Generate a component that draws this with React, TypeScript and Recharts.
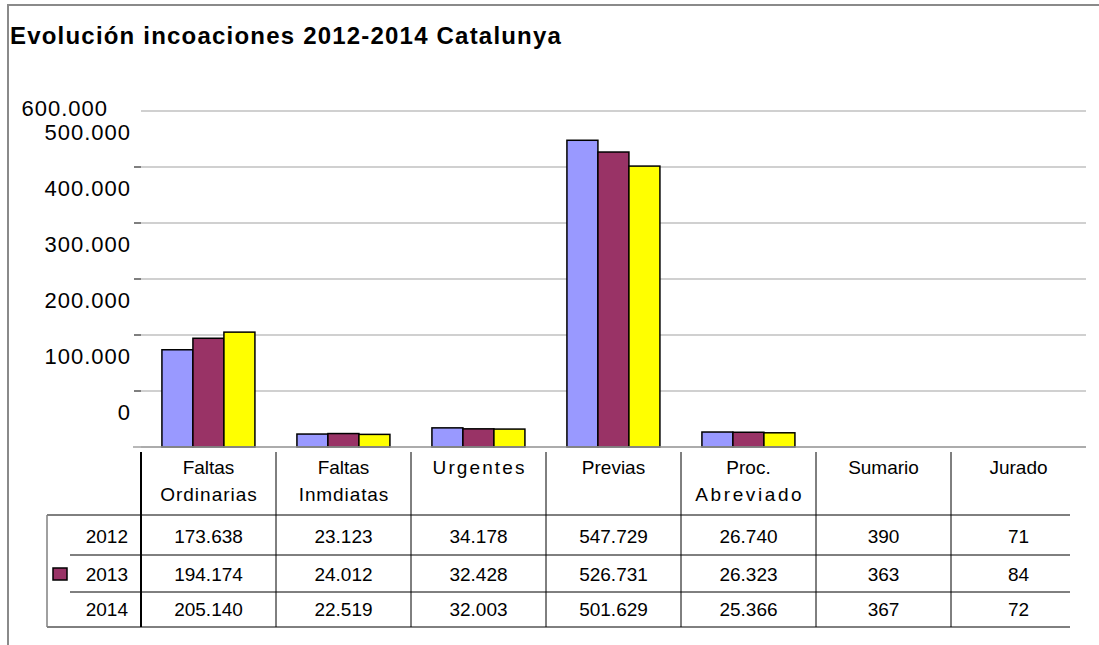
import { BarChart, Bar, XAxis, YAxis, CartesianGrid } from 'recharts'

const categories = [
  'Faltas Ordinarias',
  'Faltas Inmdiatas',
  'Urgentes',
  'Previas',
  'Proc. Abreviado',
  'Sumario',
  'Jurado',
]
const years = ['2012', '2013', '2014']
const values2012 = [173638, 23123, 34178, 547729, 26740, 390, 71]
const values2013 = [194174, 24012, 32428, 526731, 26323, 363, 84]
const values2014 = [205140, 22519, 32003, 501629, 25366, 367, 72]
const yTicks = [0, 100000, 200000, 300000, 400000, 500000, 600000]

const COLORS = ['#9999ff', '#993366', '#ffff00']
const KEYS = ['y2012', 'y2013', 'y2014']
const allValues = [values2012, values2013, values2014]

// layout
const W = 1099
const H = 645
const PLOT_LEFT = 141
const PLOT_RIGHT = 1086
const PLOT_TOP = 111
const PLOT_BOTTOM = 447
const BAND = (PLOT_RIGHT - PLOT_LEFT) / categories.length
const TABLE_TOP = 452
const HEADER_LINE_Y = [467, 494]
const ROW_LINES = [515, 555, 592, 627]
const ROW_CENTER = [536, 574, 609]
const TABLE_LEFT = 47
const TABLE_RIGHT = 1070
const FONT = '"Liberation Sans", Arial, sans-serif'

// extra tracking on some header words, as in the source image
const HEADER_SPACING: Record<string, number> = {
  Ordinarias: 1,
  Inmdiatas: 0.9,
  Urgentes: 2.1,
  Abreviado: 2.6,
}

const data = categories.map((name, i) => ({
  name,
  y2012: values2012[i],
  y2013: values2013[i],
  y2014: values2014[i],
}))

function fmt(n: number): string {
  return String(n).replace(/\B(?=(\d{3})+(?!\d))/g, '.')
}

function YTick(props: any) {
  const { y, payload } = props
  const v = payload.value as number
  const top = v === yTicks[yTicks.length - 1]
  const spacing = 1
  return (
    <g>
      {v === 0 && (
        <line x1={133} x2={PLOT_RIGHT} y1={y} y2={y} stroke="#a0a0a0" strokeWidth={1.5} />
      )}
      {v > 0 && !top && (
        <line x1={134} x2={PLOT_LEFT} y1={y} y2={y} stroke="#555" strokeWidth={1.5} />
      )}
      <text
        x={(top ? 107 : 130) + spacing}
        y={top ? y - 3 + 8 : y - 35 + 8}
        textAnchor="end"
        fontFamily={FONT}
        fontSize={22}
        letterSpacing={spacing}
        fill="#000"
      >
        {fmt(v)}
      </text>
    </g>
  )
}

function YearColumn() {
  return (
    <g>
      <line x1={TABLE_LEFT} x2={TABLE_RIGHT} y1={ROW_LINES[0]} y2={ROW_LINES[0]} stroke="#000" />
      <line x1={70} x2={TABLE_RIGHT} y1={ROW_LINES[1]} y2={ROW_LINES[1]} stroke="#000" />
      <line x1={70} x2={TABLE_RIGHT} y1={ROW_LINES[2]} y2={ROW_LINES[2]} stroke="#000" />
      <line x1={TABLE_LEFT} x2={TABLE_RIGHT} y1={ROW_LINES[3]} y2={ROW_LINES[3]} stroke="#000" />
      <line x1={TABLE_LEFT} x2={TABLE_LEFT} y1={ROW_LINES[0]} y2={ROW_LINES[3]} stroke="#808080" strokeWidth={1.5} />
      {years.map((yr, r) => (
        <text
          key={yr}
          x={128}
          y={ROW_CENTER[r] + 7}
          textAnchor="end"
          fontFamily={FONT}
          fontSize={19}
          fill="#000"
        >
          {yr}
        </text>
      ))}
      {/* only the 2013 row carries a legend key in the original */}
      <rect x={53} y={ROW_CENTER[1] - 6} width={14} height={12} fill={COLORS[1]} stroke="#000" strokeWidth={1.5} />
    </g>
  )
}

function TableColumn(props: any) {
  const { x, payload } = props
  const i = payload.index as number
  const left = x - BAND / 2
  const words = categories[i].split(' ')
  return (
    <g>
      <line x1={left} x2={left} y1={TABLE_TOP} y2={ROW_LINES[3]} stroke="#000" strokeWidth={i === 0 ? 2 : 1} />
      {words.map((w, k) => {
        const sp = HEADER_SPACING[w] ?? 0
        return (
          <text
            key={w}
            x={x + sp / 2}
            y={HEADER_LINE_Y[k] + 7}
            textAnchor="middle"
            fontFamily={FONT}
            fontSize={19}
            letterSpacing={sp}
            fill="#000"
          >
            {w}
          </text>
        )
      })}
      {allValues.map((vals, r) => (
        <text
          key={r}
          x={x}
          y={ROW_CENTER[r] + 7}
          textAnchor="middle"
          fontFamily={FONT}
          fontSize={19}
          fill="#000"
        >
          {fmt(vals[i])}
        </text>
      ))}
      {i === 0 && <YearColumn />}
    </g>
  )
}

// skip bars that would be under a pixel tall (Sumario, Jurado)
function BarShape(props: any) {
  const { x, y, width, height, fill } = props
  if (!height || height < 1) return null
  return <rect x={x} y={y} width={width} height={height} fill={fill} stroke="#000" strokeWidth={1.5} />
}

export default function App() {
  return (
    <div style={{ position: 'relative', width: W, height: H, background: '#fff', fontFamily: FONT }}>
      <style>{'body{margin:0}'}</style>
      {/* outer frame, only top and left edges are visible */}
      <div style={{ position: 'absolute', left: 7, top: 4, right: 0, height: 2, background: '#8a8a8a' }} />
      <div style={{ position: 'absolute', left: 7, top: 4, bottom: 0, width: 1.5, background: '#8a8a8a' }} />
      <div
        style={{
          position: 'absolute',
          left: 10,
          top: 22,
          fontSize: 24,
          fontWeight: 'bold',
          letterSpacing: 1.2,
          whiteSpace: 'nowrap',
          color: '#000',
        }}
      >
        Evolución incoaciones 2012-2014 Catalunya
      </div>
      <div style={{ position: 'absolute', left: 0, top: 0 }}>
        <BarChart
          width={W}
          height={H}
          data={data}
          margin={{ top: PLOT_TOP, right: W - PLOT_RIGHT, left: 0, bottom: 8 }}
          barCategoryGap="15.5%"
          barGap={0}
        >
          <CartesianGrid vertical={false} stroke="#c0c0c0" strokeWidth={1.5} />
          <XAxis
            dataKey="name"
            height={H - PLOT_BOTTOM - 8}
            axisLine={false}
            tickLine={false}
            interval={0}
            tick={<TableColumn />}
          />
          <YAxis
            width={PLOT_LEFT}
            domain={[0, 600000]}
            ticks={yTicks}
            axisLine={false}
            tickLine={false}
            tick={<YTick />}
            interval={0}
          />
          {KEYS.map((k, s) => (
            <Bar key={k} dataKey={k} fill={COLORS[s]} shape={<BarShape />} isAnimationActive={false} />
          ))}
        </BarChart>
      </div>
    </div>
  )
}
